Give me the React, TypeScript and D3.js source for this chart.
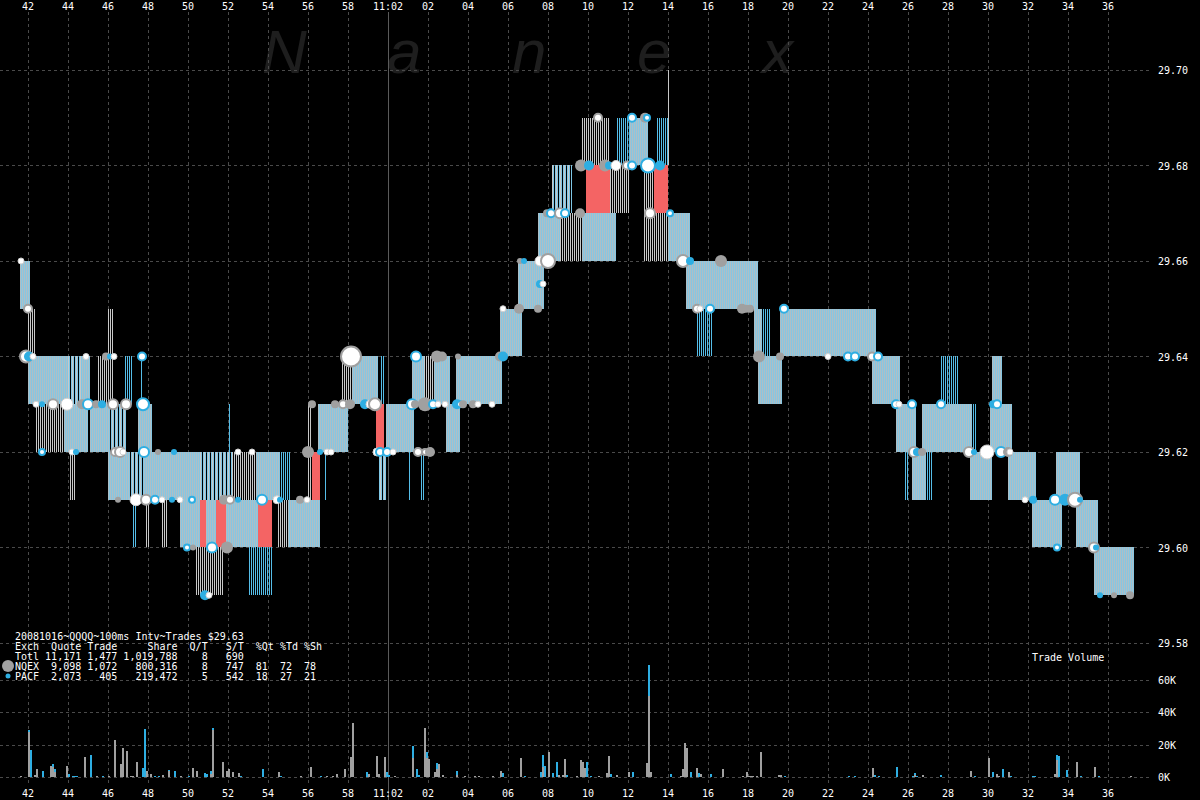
import React from 'react';
import * as d3 from 'd3';

// ---------- axis / tick data ----------
const TICK_SECONDS = [42, 44, 46, 48, 50, 52, 54, 56, 58, 60, 62, 64, 66, 68, 70, 72, 74, 76, 78, 80, 82, 84, 86, 88, 90, 92, 94, 96];
const TICK_LABELS = ['42', '44', '46', '48', '50', '52', '54', '56', '58', '11:02', '02', '04', '06', '08', '10', '12', '14', '16', '18', '20', '22', '24', '26', '28', '30', '32', '34', '36'];
const PRICE_TICKS = [29.70, 29.68, 29.66, 29.64, 29.62, 29.60, 29.58];
const VOLUME_TICKS = [0, 20, 40, 60];
const VOLUME_LABELS = ['0K', '20K', '40K', '60K'];
const WATERMARK = ['N', 'a', 'n', 'e', 'x'];

const LEGEND_LINES = [
  '20081016~QQQQ~100ms Intv~Trades $29.63',
  'Exch  Quote Trade     Share  Q/T   S/T  %Qt %Td %Sh',
  'Totl 11,171 1,477 1,019,788    8   690',
  'NQEX  9,098 1,072   800,316    8   747  81  72  78',
  'PACF  2,073   405   219,472    5   542  18  27  21',
];

// ---------- quote spread segments: [t0 sec, t1 sec, low, high, kind] (sec after 11:01:00) ----------
type Seg = [number, number, number, number, string];
const QUOTE_SEGMENTS: Seg[] = [
  [41.6, 42.1, 29.65, 29.66, 'dense'],
  [42.0, 42.4, 29.64, 29.65, 'gray'],
  [42.0, 44.0, 29.63, 29.64, 'dense'],
  [44.0, 44.7, 29.63, 29.64, 'mix'],
  [44.7, 45.1, 29.63, 29.64, 'dense'],
  [42.4, 43.8, 29.62, 29.63, 'gray'],
  [43.8, 45.0, 29.62, 29.63, 'dense'],
  [44.1, 44.4, 29.61, 29.62, 'gray'],
  [45.5, 46.0, 29.63, 29.64, 'gray'],
  [46.0, 46.3, 29.63, 29.65, 'gray'],
  [45.1, 46.1, 29.62, 29.63, 'dense'],
  [46.1, 46.9, 29.62, 29.63, 'mix'],
  [46.8, 47.2, 29.63, 29.64, 'blue'],
  [47.6, 47.7, 29.62, 29.64, 'blue'],
  [47.5, 48.2, 29.62, 29.63, 'dense'],
  [46.0, 47.1, 29.61, 29.62, 'dense'],
  [47.1, 47.8, 29.61, 29.62, 'mix'],
  [47.8, 50.6, 29.61, 29.62, 'dense'],
  [47.2, 47.4, 29.60, 29.61, 'blue'],
  [47.9, 48.1, 29.60, 29.61, 'gray'],
  [48.7, 49.0, 29.60, 29.61, 'gray'],
  [49.6, 50.6, 29.60, 29.61, 'dense'],
  [50.4, 51.8, 29.59, 29.60, 'gray'],
  [50.6, 52.2, 29.61, 29.62, 'mix'],
  [52.2, 53.4, 29.61, 29.62, 'gray'],
  [53.4, 54.6, 29.61, 29.62, 'dense'],
  [54.6, 55.1, 29.61, 29.62, 'blue'],
  [50.9, 51.4, 29.60, 29.61, 'dense'],
  [51.9, 53.5, 29.60, 29.61, 'dense'],
  [54.5, 55.0, 29.60, 29.61, 'gray'],
  [55.0, 56.6, 29.60, 29.61, 'dense'],
  [53.0, 54.2, 29.59, 29.60, 'blue'],
  [52.0, 52.1, 29.62, 29.63, 'blue'],
  [56.0, 56.2, 29.61, 29.63, 'gray'],
  [56.8, 56.9, 29.61, 29.62, 'blue'],
  [56.5, 58.0, 29.62, 29.63, 'dense'],
  [57.7, 58.2, 29.63, 29.64, 'gray'],
  [58.2, 59.5, 29.63, 29.64, 'dense'],
  [59.5, 59.9, 29.61, 29.62, 'mix'],
  [59.6, 59.8, 29.63, 29.64, 'blue'],
  [59.9, 61.3, 29.62, 29.63, 'dense'],
  [61.0, 61.1, 29.61, 29.62, 'blue'],
  [61.2, 61.8, 29.63, 29.64, 'dense'],
  [61.6, 61.8, 29.61, 29.62, 'blue'],
  [61.8, 62.3, 29.63, 29.64, 'gray'],
  [62.3, 63.1, 29.63, 29.64, 'dense'],
  [62.9, 63.6, 29.62, 29.63, 'dense'],
  [63.4, 65.7, 29.63, 29.64, 'dense'],
  [65.6, 66.7, 29.64, 29.65, 'dense'],
  [66.5, 67.8, 29.65, 29.66, 'dense'],
  [67.5, 68.6, 29.66, 29.67, 'dense'],
  [68.2, 69.2, 29.67, 29.68, 'mix'],
  [68.6, 69.7, 29.66, 29.67, 'gray'],
  [69.7, 71.4, 29.66, 29.67, 'dense'],
  [69.7, 71.1, 29.68, 29.69, 'gray'],
  [71.1, 72.1, 29.67, 29.68, 'gray'],
  [71.4, 72.1, 29.68, 29.69, 'blue'],
  [72.1, 73.0, 29.68, 29.69, 'dense'],
  [72.8, 73.4, 29.66, 29.68, 'gray'],
  [73.4, 74.0, 29.68, 29.69, 'blue'],
  [73.4, 74.0, 29.66, 29.67, 'gray'],
  [74.0, 74.1, 29.68, 29.70, 'gray'],
  [74.0, 75.1, 29.66, 29.67, 'dense'],
  [74.9, 78.5, 29.65, 29.66, 'dense'],
  [75.4, 76.2, 29.64, 29.65, 'blue'],
  [78.3, 78.7, 29.64, 29.65, 'dense'],
  [78.7, 79.1, 29.64, 29.65, 'blue'],
  [78.5, 79.7, 29.63, 29.64, 'dense'],
  [79.6, 84.4, 29.64, 29.65, 'dense'],
  [84.2, 85.6, 29.63, 29.64, 'dense'],
  [85.4, 86.4, 29.62, 29.63, 'dense'],
  [85.8, 86.0, 29.61, 29.62, 'blue'],
  [86.2, 86.9, 29.61, 29.62, 'dense'],
  [86.9, 87.2, 29.61, 29.62, 'blue'],
  [86.7, 89.2, 29.62, 29.63, 'dense'],
  [87.6, 88.5, 29.63, 29.64, 'blue'],
  [89.2, 89.4, 29.62, 29.63, 'blue'],
  [89.1, 90.2, 29.61, 29.62, 'dense'],
  [90.2, 90.7, 29.63, 29.64, 'dense'],
  [90.1, 91.2, 29.62, 29.63, 'dense'],
  [91.0, 92.4, 29.61, 29.62, 'dense'],
  [92.2, 93.7, 29.60, 29.61, 'dense'],
  [93.4, 94.6, 29.61, 29.62, 'dense'],
  [94.4, 95.5, 29.60, 29.61, 'dense'],
  [95.3, 97.3, 29.59, 29.60, 'dense'],
];

// crossed-quote (red) periods: [t0, t1, low, high]
const CROSSED_SEGMENTS: [number, number, number, number][] = [
  [50.6, 50.9, 29.60, 29.61],
  [51.4, 51.9, 29.60, 29.61],
  [53.5, 54.2, 29.60, 29.61],
  [56.2, 56.6, 29.61, 29.62],
  [59.4, 59.8, 29.62, 29.63],
  [69.9, 71.1, 29.67, 29.68],
  [73.3, 74.0, 29.67, 29.68],
];

// ---------- trades: [t sec, price, size, style] ----------
type Trade = [number, number, number, string];
const TRADES: Trade[] = [
  [41.65, 29.66, 3, 'w'], [66.6, 29.66, 3, 'g'], [66.8, 29.66, 3, 'b'], [67.6, 29.66, 5, 'w'], [68.0, 29.66, 7, 'wg'],
  [74.75, 29.66, 6, 'wg'], [75.1, 29.66, 4, 'b'], [76.65, 29.66, 6, 'g'],
  [42.0, 29.65, 4, 'wg'], [65.75, 29.65, 3, 'w'], [66.55, 29.65, 5, 'g'], [67.5, 29.65, 4, 'g'], [75.45, 29.65, 4, 'wg'],
  [75.6, 29.65, 3, 'w'], [76.1, 29.65, 4, 'wb'], [77.7, 29.65, 5, 'g'], [77.9, 29.65, 4, 'g'], [78.1, 29.65, 4, 'g'], [79.8, 29.65, 4, 'wb'],
  [67.6, 29.6552, 4, 'b'], [67.75, 29.6552, 3, 'w'],
  [41.9, 29.64, 6, 'wg'], [42.05, 29.64, 5, 'b'], [42.25, 29.64, 3, 'w'], [44.9, 29.64, 3, 'w'], [45.9, 29.64, 4, 'g'],
  [46.1, 29.64, 3, 'b'], [46.3, 29.64, 3, 'w'], [47.7, 29.64, 4, 'wb'], [58.15, 29.64, 10, 'wg'], [61.4, 29.64, 5, 'wb'],
  [62.45, 29.64, 6, 'g'], [62.7, 29.64, 5, 'g'], [63.5, 29.64, 3, 'g'], [65.6, 29.64, 5, 'g'], [65.75, 29.64, 5, 'b'],
  [78.55, 29.64, 6, 'g'], [79.6, 29.64, 4, 'g'], [82.0, 29.64, 3, 'w'], [83.0, 29.64, 4, 'wb'], [83.35, 29.64, 4, 'wb'],
  [84.2, 29.64, 4, 'wg'], [84.5, 29.64, 4, 'wb'],
  [42.4, 29.63, 3, 'w'], [42.7, 29.63, 3, 'b'], [43.25, 29.63, 5, 'wg'], [43.95, 29.63, 6, 'w'], [44.7, 29.63, 5, 'g'],
  [45.0, 29.63, 5, 'wb'], [45.4, 29.63, 4, 'g'], [45.7, 29.63, 4, 'b'], [46.25, 29.63, 5, 'wg'], [46.9, 29.63, 5, 'wg'],
  [47.75, 29.63, 6, 'wb'], [56.2, 29.63, 4, 'g'], [57.35, 29.63, 4, 'g'], [57.75, 29.63, 4, 'wg'], [58.1, 29.63, 5, 'g'],
  [58.85, 29.63, 5, 'b'], [59.1, 29.63, 4, 'w'], [59.35, 29.63, 6, 'wg'], [61.2, 29.63, 5, 'wb'], [61.35, 29.63, 4, 'g'],
  [61.85, 29.63, 7, 'g'], [62.25, 29.63, 4, 'wb'], [62.5, 29.63, 3, 'w'], [62.85, 29.63, 3, 'w'], [63.45, 29.63, 5, 'b'],
  [63.6, 29.63, 3, 'wb'], [63.75, 29.63, 4, 'g'], [64.25, 29.63, 4, 'g'], [64.5, 29.63, 3, 'w'], [65.2, 29.63, 3, 'w'],
  [85.4, 29.63, 4, 'wb'], [85.55, 29.63, 3, 'w'], [86.2, 29.63, 4, 'wb'], [87.65, 29.63, 4, 'wb'], [90.25, 29.63, 4, 'b'], [90.45, 29.63, 4, 'wb'],
  [42.7, 29.62, 3, 'wb'], [44.2, 29.62, 3, 'w'], [44.4, 29.62, 3, 'b'], [46.35, 29.62, 4, 'wg'], [46.6, 29.62, 5, 'wg'],
  [46.75, 29.62, 3, 'w'], [47.8, 29.62, 5, 'wb'], [48.5, 29.62, 3, 'g'], [49.3, 29.62, 3, 'b'], [52.5, 29.62, 3, 'w'],
  [53.2, 29.62, 3, 'w'], [56.0, 29.62, 6, 'g'], [56.6, 29.62, 3, 'b'], [56.95, 29.62, 3, 'w'], [57.15, 29.62, 3, 'w'],
  [59.45, 29.62, 4, 'w'], [59.6, 29.62, 4, 'wb'], [59.95, 29.62, 4, 'wb'], [60.25, 29.62, 3, 'w'], [61.5, 29.62, 4, 'wg'],
  [61.85, 29.62, 3, 'wg'], [62.1, 29.62, 5, 'g'], [86.3, 29.62, 5, 'wg'], [86.45, 29.62, 4, 'b'], [86.7, 29.62, 4, 'g'],
  [89.05, 29.62, 5, 'wg'], [89.3, 29.62, 3, 'b'], [89.95, 29.62, 7, 'w'], [90.65, 29.62, 5, 'wb'], [91.0, 29.62, 5, 'g'], [91.1, 29.62, 3, 'w'],
  [46.5, 29.61, 3, 'g'], [47.4, 29.61, 6, 'w'], [47.9, 29.61, 5, 'wg'], [48.35, 29.61, 4, 'wb'], [48.7, 29.61, 3, 'w'],
  [49.2, 29.61, 3, 'b'], [49.6, 29.61, 3, 'w'], [50.2, 29.61, 3, 'wb'], [51.8, 29.61, 5, 'g'], [52.1, 29.61, 4, 'wg'],
  [52.5, 29.61, 3, 'b'], [53.7, 29.61, 5, 'wb'], [54.45, 29.61, 4, 'w'], [54.6, 29.61, 3, 'b'], [55.6, 29.61, 4, 'g'],
  [55.95, 29.61, 3, 'w'], [91.85, 29.61, 3, 'w'], [92.25, 29.61, 4, 'b'], [93.35, 29.61, 5, 'wb'], [93.85, 29.61, 6, 'b'],
  [94.35, 29.61, 7, 'wg'], [94.6, 29.61, 3, 'b'],
  [49.95, 29.60, 3, 'wb'], [50.25, 29.60, 3, 'g'], [51.2, 29.60, 5, 'wb'], [51.95, 29.60, 6, 'g'], [93.45, 29.60, 3, 'wb'],
  [95.3, 29.60, 5, 'wg'], [95.4, 29.60, 3, 'b'],
  [50.85, 29.59, 5, 'b'], [51.05, 29.59, 3, 'w'], [95.6, 29.59, 3, 'b'], [96.3, 29.59, 3, 'g'], [97.1, 29.59, 4, 'g'],
  [70.5, 29.69, 4, 'wg'], [72.2, 29.69, 4, 'wb'], [72.85, 29.69, 5, 'g'], [72.95, 29.69, 3, 'wb'],
  [69.65, 29.68, 6, 'g'], [69.95, 29.68, 4, 'g'], [70.05, 29.68, 5, 'b'], [70.85, 29.68, 6, 'g'], [71.05, 29.68, 4, 'b'],
  [71.4, 29.68, 5, 'w'], [71.95, 29.68, 4, 'wg'], [72.2, 29.68, 4, 'wb'], [73.0, 29.68, 7, 'wb'], [73.6, 29.68, 5, 'b'],
  [67.95, 29.67, 4, 'g'], [68.15, 29.67, 4, 'wb'], [68.6, 29.67, 5, 'wg'], [68.85, 29.67, 4, 'wb'], [69.6, 29.67, 5, 'g'],
  [73.1, 29.67, 5, 'wg'], [74.1, 29.67, 3, 'wb'],
];

// ---------- trade volume per 100ms: [t sec, NQEX K shares, PACF K shares] ----------
const VOLUME: [number, number, number][] = [
  [41.6, 0.5, 0], [42.0, 28, 1], [42.1, 0, 16.6], [42.3, 1, 0], [42.4, 5, 0], [42.7, 0, 3.5],
  [43.1, 6.5, 0], [43.2, 6, 2], [43.3, 3, 2], [43.6, 0.3, 0], [43.9, 7, 0], [44.0, 0, 2],
  [44.2, 0, 0.7], [44.3, 0, 0.7], [44.4, 0, 0.7], [44.8, 12.3, 0], [45.1, 0, 13.5], [45.4, 0.5, 0],
  [45.7, 0, 0.7], [46.0, 0.4, 0], [46.3, 23, 0], [46.6, 8, 0], [46.7, 18, 0], [46.9, 15.7, 0],
  [47.1, 0.5, 0], [47.2, 0.5, 0], [47.4, 9, 0], [47.7, 0, 5.5], [47.8, 0, 29.5], [47.9, 3.5, 0],
  [48.1, 2, 0], [48.3, 0, 0.8], [48.5, 0, 0.8], [48.7, 1.2, 0], [49.0, 3.5, 1], [49.3, 0, 3.5],
  [49.6, 0.4, 0], [50.0, 0, 0.7], [50.2, 5.5, 0], [50.4, 3.5, 0], [50.8, 0, 2.5], [50.9, 0, 2],
  [51.1, 2, 1.5], [51.2, 29, 1], [51.7, 9, 0], [51.9, 3.5, 0], [52.0, 5, 0], [52.2, 3, 0],
  [52.5, 2.5, 0], [52.6, 0, 0.7], [53.7, 0, 5], [54.5, 3.2, 0], [54.6, 0, 0.5], [55.6, 0.6, 0],
  [56.1, 6.2, 0], [56.6, 0, 0.4], [56.9, 0.4, 0], [57.2, 0.4, 0], [57.4, 2, 0], [57.8, 5, 0],
  [58.1, 12.5, 0], [58.2, 33.5, 0], [58.9, 0, 3], [59.0, 2, 0], [59.4, 13, 0], [59.5, 2, 0],
  [59.8, 12.5, 0], [59.9, 0, 3], [60.0, 0, 1], [60.3, 0.6, 0], [61.2, 11.7, 7.4], [61.4, 0, 5],
  [61.5, 0, 1.5], [61.8, 30, 0], [61.9, 11.7, 3.7], [62.0, 11, 0], [62.3, 3, 0], [62.4, 5, 3.6],
  [62.5, 8, 0], [62.7, 1.2, 0], [63.4, 1, 2.5], [63.8, 0.6, 0], [64.3, 0.5, 0], [64.5, 0.5, 0],
  [65.2, 0.4, 0], [65.6, 3.7, 0], [65.7, 0, 2.5], [66.6, 11.7, 0], [66.8, 0, 0.5], [67.6, 0, 3],
  [67.7, 6, 7.5], [67.8, 0, 6.8], [68.0, 15.4, 0], [68.2, 0, 2.5], [68.4, 0, 9.2], [68.5, 1.2, 0],
  [68.7, 1.2, 0], [68.8, 11, 0], [68.9, 0, 1.2], [69.4, 0.6, 0], [69.6, 10.5, 0], [69.7, 9.2, 0],
  [69.8, 5.5, 0], [69.9, 0, 9.2], [70.1, 0, 0.6], [70.5, 0.6, 0], [70.9, 2.5, 0], [71.0, 13, 0],
  [71.1, 0, 1.8], [71.4, 1.2, 0], [72.0, 3, 0], [72.2, 0, 3], [72.9, 8.6, 0], [73.0, 50, 19],
  [73.1, 3, 0], [73.5, 0, 0.3], [73.6, 0, 0.3], [74.1, 0, 1.8], [74.6, 0.6, 0], [74.7, 5, 0],
  [74.8, 21, 0], [74.9, 18, 0], [75.1, 0, 3], [75.4, 5.5, 0], [75.5, 0, 2.5], [75.6, 1.8, 0],
  [76.1, 0, 1.8], [76.7, 5, 0], [77.7, 0.6, 0], [77.9, 3, 0], [78.0, 0.6, 0], [78.1, 0.6, 0],
  [78.2, 0.6, 0], [78.4, 0.6, 0], [78.6, 15.4, 0], [79.5, 1.2, 0], [79.6, 1.2, 0], [79.8, 0, 0.6],
  [82.0, 0.3, 0], [83.0, 0, 0.6], [83.3, 0, 0.6], [84.2, 5.5, 0], [84.3, 0, 1.2], [84.5, 0, 0.6],
  [85.4, 0, 6.2], [86.2, 0, 0.6], [86.3, 1.5, 1], [86.4, 0, 0.6], [86.7, 1.2, 0], [87.6, 0, 1.2],
  [89.1, 3.7, 0], [89.3, 0, 0.6], [90.0, 11.7, 0], [90.2, 0, 3], [90.4, 1.8, 0], [90.5, 0.6, 0],
  [90.7, 0, 5], [91.0, 3, 0], [91.1, 0, 0.6], [91.9, 0.3, 0], [92.2, 0, 0.6], [92.3, 0, 0.6],
  [93.3, 1.8, 0], [93.4, 10.5, 3], [93.5, 0, 13], [93.9, 0, 4.3], [94.4, 9.2, 0], [94.6, 0, 0.6],
  [95.3, 6.2, 0], [95.5, 0, 0.6], [96.3, 0.3, 0], [97.1, 0.6, 0],
];

const C_BLUE = '#2eaee2';
const C_GRAY = '#a0a0a0';
const FONT = '"DejaVu Sans Mono", monospace';

function markerStyle(s: string) {
  switch (s) {
    case 'wg': return { fill: '#ffffff', stroke: C_GRAY, sw: 2 };
    case 'wb': return { fill: '#ffffff', stroke: C_BLUE, sw: 2 };
    case 'g': return { fill: C_GRAY, stroke: 'none', sw: 0 };
    case 'b': return { fill: C_BLUE, stroke: 'none', sw: 0 };
    default: return { fill: '#ffffff', stroke: '#d0d0d0', sw: 1 };
  }
}

export default function App() {
  const x = d3.scaleLinear().domain([42, 96]).range([28, 1108]);
  const y = d3.scaleLinear().domain([29.58, 29.70]).range([643, 70]);
  const yv = d3.scaleLinear().domain([0, 60]).range([777, 679.5]);
  const step = 0.1;
  const barW = x(42 + step) - x(42);

  const patFor = (k: string) => `url(#pat-${k})`;

  return (
    <svg width={1200} height={800} style={{ position: 'absolute', left: 0, top: 0, background: '#000' }}>
      <defs>
        <pattern id="pat-dense" patternUnits="userSpaceOnUse" x={0} y={0} width={2} height={4}>
          <rect x={0} y={0} width={2} height={4} fill="#aebfc6" />
          <rect x={1} y={0} width={1} height={4} fill="#86c6e2" />
        </pattern>
        <pattern id="pat-gray" patternUnits="userSpaceOnUse" x={0} y={0} width={2} height={4}>
          <rect x={0} y={0} width={1} height={4} fill="#c8c8c8" />
        </pattern>
        <pattern id="pat-blue" patternUnits="userSpaceOnUse" x={0} y={0} width={2} height={4}>
          <rect x={1} y={0} width={1} height={4} fill="#55bde8" />
        </pattern>
        <pattern id="pat-mix" patternUnits="userSpaceOnUse" x={0} y={0} width={4} height={4}>
          <rect x={0} y={0} width={1} height={4} fill="#c8c8c8" />
          <rect x={1} y={0} width={1} height={4} fill="#7fc7e6" />
          <rect x={3} y={0} width={1} height={4} fill="#7fc7e6" />
        </pattern>
      </defs>
      <rect x={0} y={0} width={1200} height={800} fill="#000" />

      {/* watermark */}
      <g fontFamily='"Liberation Sans", Arial, sans-serif' fontStyle="italic" fontSize={62} fill="#1e1e1e">
        {WATERMARK.map((c, i) => (
          <text key={i} x={262 + i * 125} y={73}>{c}</text>
        ))}
      </g>

      {/* grid */}
      <g stroke="#4a4a4a" strokeWidth={1} strokeDasharray="3,3" shapeRendering="crispEdges">
        {TICK_SECONDS.map((t) => (
          <line key={'v' + t} x1={x(t) + 0.5} x2={x(t) + 0.5} y1={12} y2={784} />
        ))}
        {PRICE_TICKS.map((p) => (
          <line key={'p' + p} x1={0} x2={1150} y1={Math.round(y(p)) + 0.5} y2={Math.round(y(p)) + 0.5} />
        ))}
        {VOLUME_TICKS.map((v) => (
          <line key={'vv' + v} x1={0} x2={1150} y1={Math.round(yv(v)) + 0.5} y2={Math.round(yv(v)) + 0.5} />
        ))}
      </g>
      <line x1={x(60) + 0.5} x2={x(60) + 0.5} y1={12} y2={800} stroke="#5a5a5a" strokeWidth={1} shapeRendering="crispEdges" />

      {/* quote spreads */}
      <g shapeRendering="crispEdges">
        {QUOTE_SEGMENTS.map((s, i) => (
          <rect key={'s' + i} x={x(s[0])} width={x(s[1]) - x(s[0])}
            y={Math.round(y(s[3]))} height={Math.round(y(s[2])) - Math.round(y(s[3]))}
            fill={patFor(s[4])} />
        ))}
        {CROSSED_SEGMENTS.map((s, i) => (
          <rect key={'c' + i} x={x(s[0])} width={x(s[1]) - x(s[0])}
            y={Math.round(y(s[3]))} height={Math.round(y(s[2])) - Math.round(y(s[3]))}
            fill="#f46464" />
        ))}
      </g>

      {/* trades */}
      <g>
        {TRADES.map((t, i) => {
          const st = markerStyle(t[3]);
          return (
            <circle key={'t' + i} cx={x(t[0])} cy={y(t[1])} r={t[2]}
              fill={st.fill} stroke={st.stroke} strokeWidth={st.sw} />
          );
        })}
      </g>

      {/* volume */}
      <g shapeRendering="crispEdges">
        {VOLUME.map((v, i) => (
          <g key={'v' + i}>
            {v[1] > 0 && (
              <rect x={x(v[0])} width={barW} y={yv(v[1])} height={yv(0) - yv(v[1])} fill={C_GRAY} />
            )}
            {v[2] > 0 && (
              <rect x={x(v[0])} width={barW} y={yv(v[1] + v[2])} height={yv(v[1]) - yv(v[1] + v[2])} fill={C_BLUE} />
            )}
          </g>
        ))}
      </g>

      {/* axis labels */}
      <g fontFamily={FONT} fontSize={10} fill="#fff" textAnchor="middle">
        {TICK_SECONDS.map((t, i) => (
          <text key={'tt' + t} x={x(t)} y={10}>{TICK_LABELS[i]}</text>
        ))}
        {TICK_SECONDS.map((t, i) => (
          <text key={'tb' + t} x={x(t)} y={797}>{TICK_LABELS[i]}</text>
        ))}
      </g>
      <g fontFamily={FONT} fontSize={10} fill="#fff">
        {PRICE_TICKS.map((p) => (
          <text key={'pl' + p} x={1158} y={y(p) + 4}>{p.toFixed(2)}</text>
        ))}
        {VOLUME_TICKS.map((v, i) => (
          <text key={'vl' + v} x={1158} y={yv(v) + 4}>{VOLUME_LABELS[i]}</text>
        ))}
        <text x={1032} y={661}>Trade Volume</text>
      </g>

      {/* legend */}
      <g fontFamily={FONT} fontSize={10} fill="#fff" style={{ whiteSpace: 'pre' }}>
        {LEGEND_LINES.map((l, i) => (
          <text key={'lg' + i} x={15} y={640 + i * 10} xmlSpace="preserve">{l}</text>
        ))}
      </g>
      <circle cx={8} cy={666} r={6} fill={C_GRAY} />
      <circle cx={8} cy={676} r={2.5} fill={C_BLUE} />
    </svg>
  );
}
